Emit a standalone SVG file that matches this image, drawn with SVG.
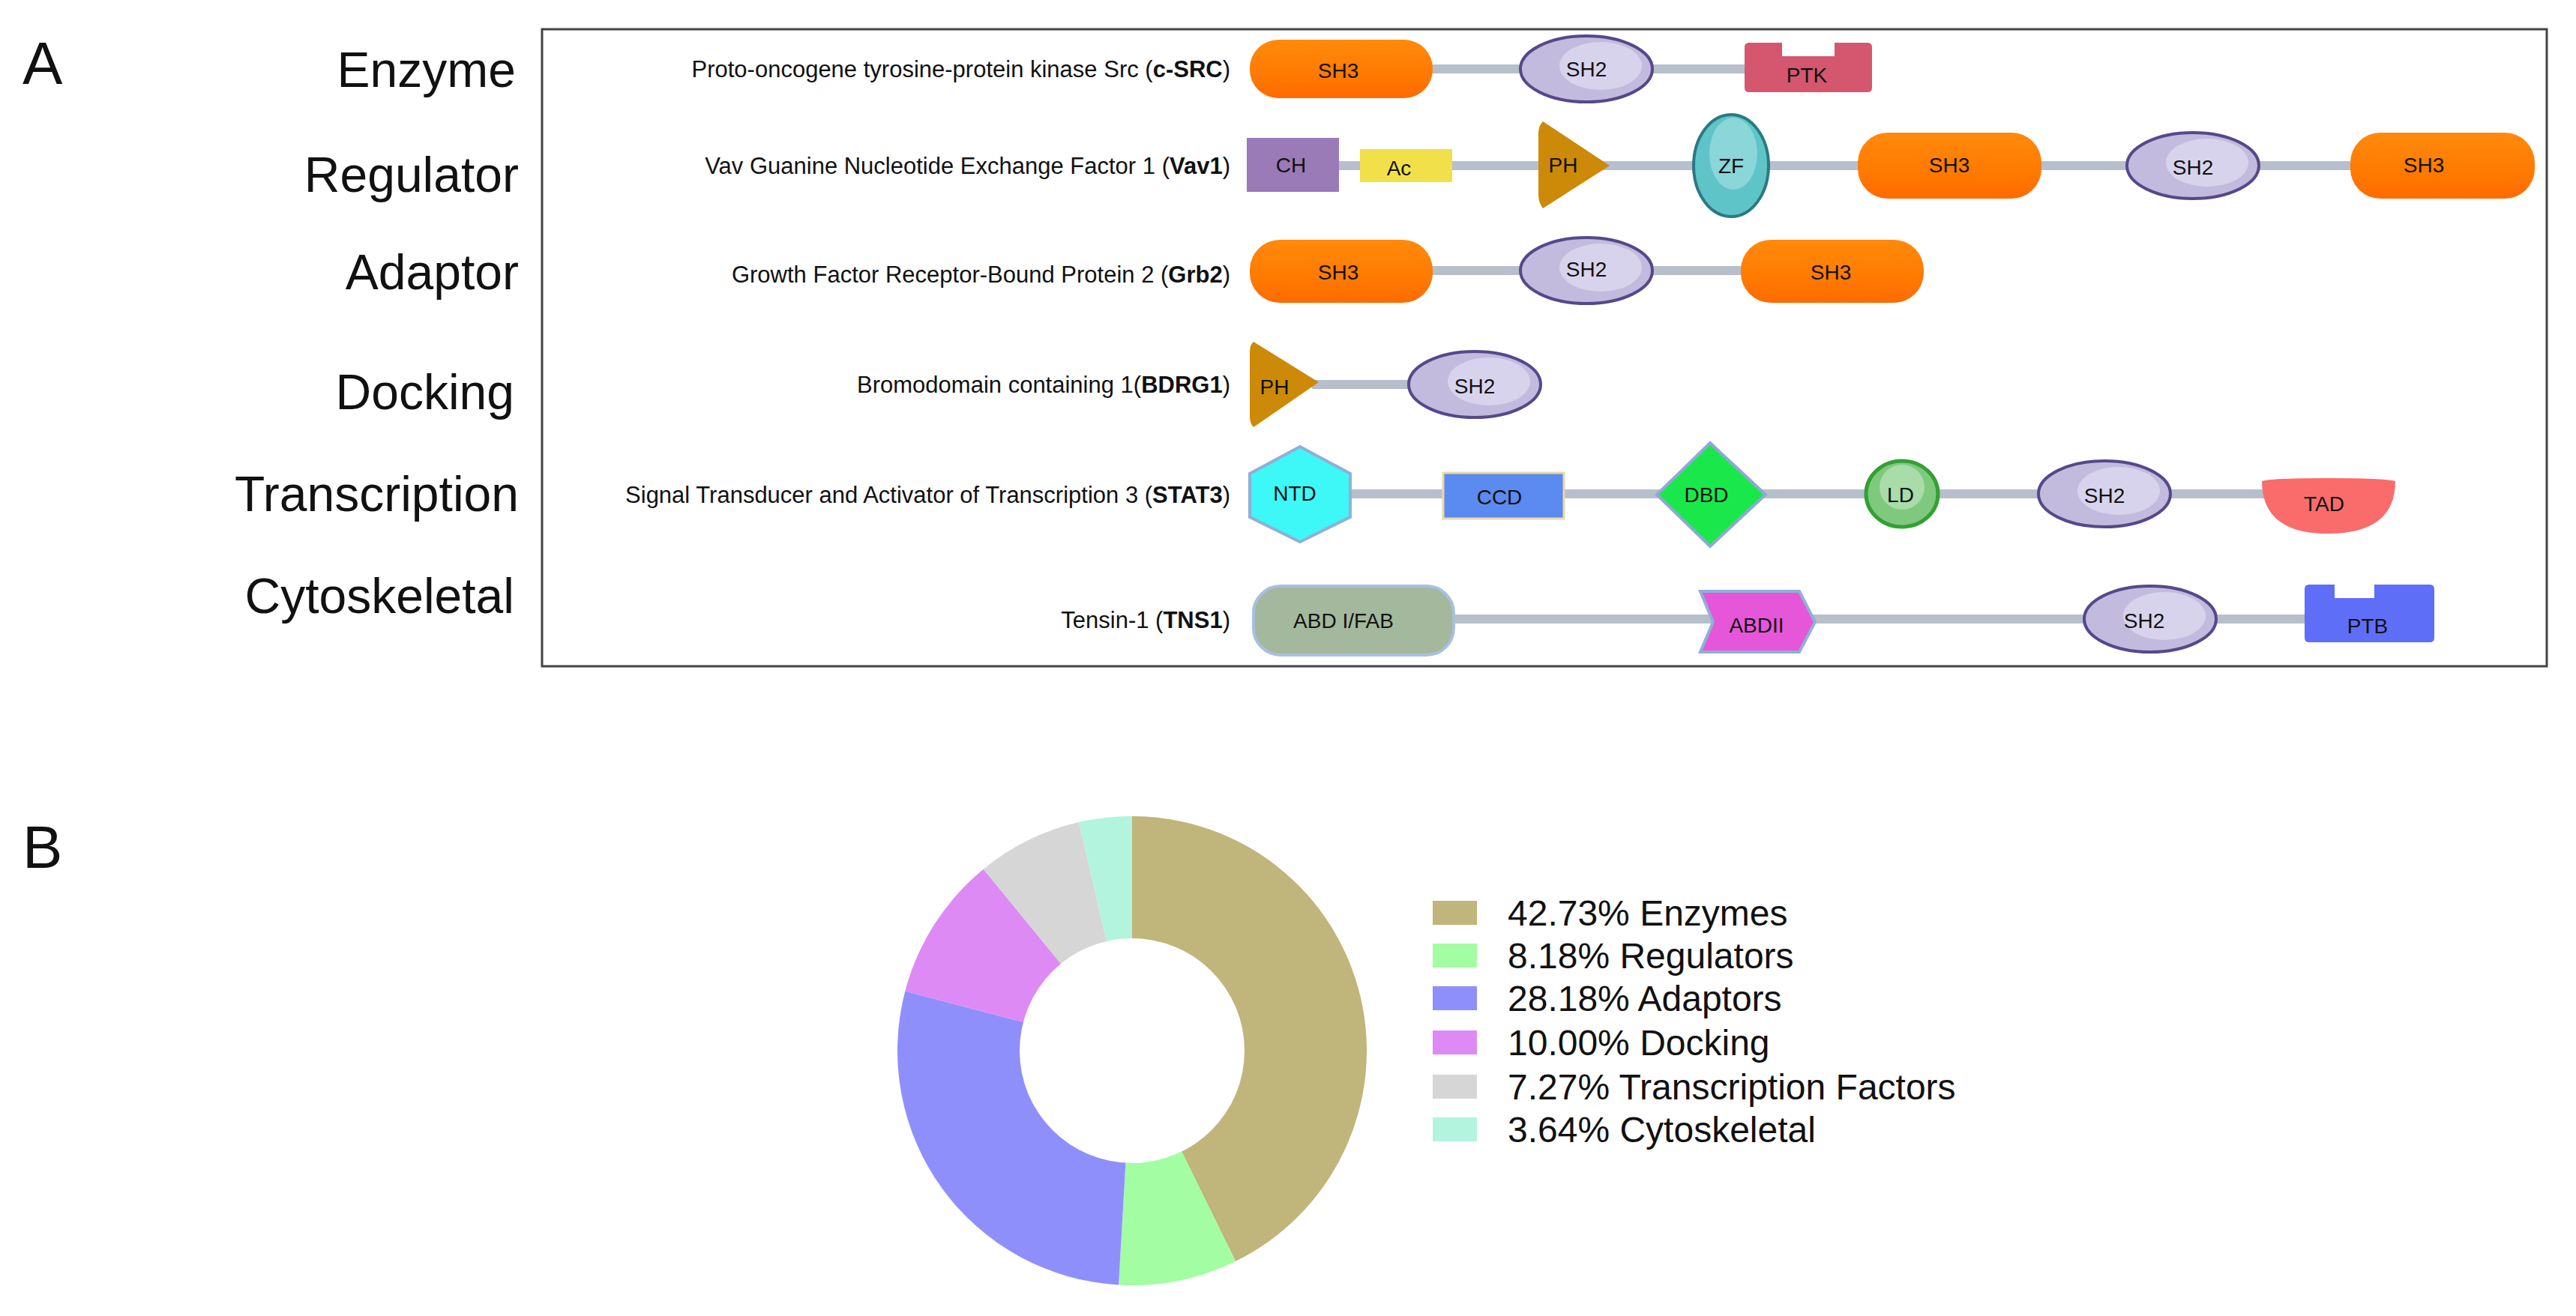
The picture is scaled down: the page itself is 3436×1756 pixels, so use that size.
<svg xmlns="http://www.w3.org/2000/svg" width="3436" height="1756" viewBox="0 0 3436 1756">
<defs>
<style>
text{font-family:"Liberation Sans",Arial,sans-serif;fill:#111}
.cat{font-size:66px;text-anchor:end}
.pl{font-size:31px;text-anchor:end}
.dl{font-size:28px;text-anchor:middle;dominant-baseline:central}
.lk{stroke:#b7bfcc;stroke-width:12;fill:none}
.sh3{fill:url(#gOr)}
.sh2{fill:#c2bbde;stroke:#56488a;stroke-width:4}
.hl{fill:#d8d3ec}
.leg{font-size:48px}
</style>
<linearGradient id="gOr" x1="0" y1="0" x2="0" y2="1"><stop offset="0" stop-color="#ff8a0c"/><stop offset="0.6" stop-color="#ff7a00"/><stop offset="1" stop-color="#ff6a00"/></linearGradient>
</defs>
<rect width="3436" height="1756" fill="#fff"/>
<text x="30" y="112" style="font-size:80px">A</text>
<text x="30" y="1158" style="font-size:80px">B</text>
<rect x="723" y="39" width="2674" height="850" fill="none" stroke="#444" stroke-width="3"/>
<g id="categories">
<text class="cat" x="688" y="116">Enzyme</text>
<text class="cat" x="692" y="256">Regulator</text>
<text class="cat" x="692" y="386">Adaptor</text>
<text class="cat" x="686" y="546">Docking</text>
<text class="cat" x="692" y="682">Transcription</text>
<text class="cat" x="686" y="818">Cytoskeletal</text>
</g>
<g id="protein-labels">
<text class="pl" x="1641" y="103">Proto-oncogene tyrosine-protein kinase Src (<tspan font-weight="bold">c-SRC</tspan>)</text>
<text class="pl" x="1641" y="232">Vav Guanine Nucleotide Exchange Factor 1 (<tspan font-weight="bold">Vav1</tspan>)</text>
<text class="pl" x="1641" y="377">Growth Factor Receptor-Bound Protein 2 (<tspan font-weight="bold">Grb2</tspan>)</text>
<text class="pl" x="1641" y="524">Bromodomain containing 1(<tspan font-weight="bold">BDRG1</tspan>)</text>
<text class="pl" x="1641" y="671">Signal Transducer and Activator of Transcription 3 (<tspan font-weight="bold">STAT3</tspan>)</text>
<text class="pl" x="1641" y="838">Tensin-1 (<tspan font-weight="bold">TNS1</tspan>)</text>
</g>
<g id="connectors">
<line class="lk" x1="1900" y1="92" x2="2330" y2="92"/>
<line class="lk" x1="1780" y1="221" x2="3140" y2="221"/>
<line class="lk" x1="1900" y1="361" x2="2330" y2="361"/>
<line class="lk" x1="1750" y1="513" x2="1900" y2="513"/>
<line class="lk" x1="1790" y1="659" x2="3020" y2="659"/>
<line class="lk" x1="1930" y1="826" x2="3080" y2="826"/>
</g>
<g id="c-SRC">
<rect class="sh3" x="1667" y="53" width="244" height="78" rx="38"/><text class="dl" x="1785" y="94">SH3</text>
<ellipse class="sh2" cx="2116" cy="92" rx="88" ry="44"/><ellipse class="hl" cx="2135" cy="88" rx="55" ry="32"/><text class="dl" x="2116" y="92">SH2</text>
<path d="M2327 63 q0-6 6-6 h44 v18 h70 v-18 h44 q6 0 6 6 v54 q0 6-6 6 h-158 q-6 0-6-6z" fill="#d4566f"/><text class="dl" x="2410" y="100">PTK</text>
</g>
<g id="Vav1">
<rect x="1663" y="184" width="123" height="72" fill="#9b7ab8"/><text class="dl" x="1722" y="220">CH</text>
<rect x="1814" y="199" width="123" height="44" fill="#f2e04a"/><text class="dl" x="1866" y="224">Ac</text>
<path d="M2058 162 L2147 221 L2058 278 Q2052 270 2052 260 V178 Q2052 168 2058 162z" fill="#cc8a08"/><text class="dl" x="2085" y="220">PH</text>
<ellipse cx="2309" cy="221" rx="50" ry="68" fill="#5fc4c8" stroke="#2a7a80" stroke-width="4"/><ellipse cx="2312" cy="205" rx="32" ry="48" fill="#8ad6d8"/><text class="dl" x="2309" y="221">ZF</text>
<rect class="sh3" x="2478" y="177" width="245" height="88" rx="40"/><text class="dl" x="2600" y="220">SH3</text>
<ellipse class="sh2" cx="2925" cy="221" rx="88" ry="44"/><ellipse class="hl" cx="2944" cy="217" rx="55" ry="32"/><text class="dl" x="2925" y="223">SH2</text>
<rect class="sh3" x="3135" y="177" width="246" height="88" rx="40"/><text class="dl" x="3233" y="220">SH3</text>
</g>
<g id="Grb2">
<rect class="sh3" x="1667" y="320" width="244" height="84" rx="40"/><text class="dl" x="1785" y="363">SH3</text>
<ellipse class="sh2" cx="2116" cy="361" rx="88" ry="44"/><ellipse class="hl" cx="2135" cy="357" rx="55" ry="32"/><text class="dl" x="2116" y="359">SH2</text>
<rect class="sh3" x="2322" y="320" width="244" height="84" rx="40"/><text class="dl" x="2442" y="363">SH3</text>
</g>
<g id="BDRG1">
<path d="M1672 456 L1759 510 L1672 570 Q1667 565 1667 556 V470 Q1667 460 1672 456z" fill="#cc8a08"/><text class="dl" x="1700" y="516">PH</text>
<ellipse class="sh2" cx="1967" cy="513" rx="88" ry="44"/><ellipse class="hl" cx="1986" cy="509" rx="55" ry="32"/><text class="dl" x="1967" y="515">SH2</text>
</g>
<g id="STAT3">
<polygon points="1734,596 1801,632 1801,690 1734,723 1667,690 1667,632" fill="#3ef7f7" stroke="#8fb0d6" stroke-width="4"/><text class="dl" x="1727" y="658">NTD</text>
<rect x="1925" y="631" width="161" height="61" fill="#5b8af0" stroke="#e8d9a8" stroke-width="3"/><text class="dl" x="2000" y="663">CCD</text>
<polygon points="2281,591 2355,660 2281,729 2210,660" fill="#1ae84a" stroke="#8fa8d6" stroke-width="4"/><text class="dl" x="2276" y="660">DBD</text>
<ellipse cx="2537" cy="659" rx="48" ry="44" fill="#7fc97f" stroke="#33a033" stroke-width="5"/><ellipse cx="2537" cy="650" rx="30" ry="30" fill="#a8dca8"/><text class="dl" x="2535" y="660">LD</text>
<ellipse class="sh2" cx="2807" cy="659" rx="88" ry="44"/><ellipse class="hl" cx="2826" cy="655" rx="55" ry="32"/><text class="dl" x="2807" y="661">SH2</text>
<path d="M3017 642 Q3030 638 3105 638 Q3180 638 3195 642 Q3195 712 3105 712 Q3017 712 3017 642z" fill="#fa6c6c"/><text class="dl" x="3100" y="672">TAD</text>
</g>
<g id="TNS1">
<rect x="1672" y="782" width="267" height="92" rx="36" fill="#a3b89c" stroke="#a7c0e0" stroke-width="4"/><text class="dl" x="1792" y="828">ABD I/FAB</text>
<polygon points="2268,789 2400,789 2421,830 2400,870 2268,870 2285,830" fill="#e656d9" stroke="#8fb0d6" stroke-width="4"/><text class="dl" x="2343" y="834">ABDII</text>
<ellipse class="sh2" cx="2868" cy="826" rx="88" ry="44"/><ellipse class="hl" cx="2887" cy="822" rx="55" ry="32"/><text class="dl" x="2860" y="828">SH2</text>
<path d="M3074 786 q0-6 6-6 h34 v18 h53 v-18 h74 q6 0 6 6 v65 q0 6-6 6 h-161 q-6 0-6-6z" fill="#5e6ef7"/><text class="dl" x="3158" y="835">PTB</text>
</g>
<g id="donut">
<path d="M1510 1402 L1510 1089 A313 313 0 0 1 1648.1 1682.9Z" fill="#c0b57a"/>
<path d="M1510 1402 L1648.1 1682.9 A313 313 0 0 1 1492.1 1714.5Z" fill="#a3fda3"/>
<path d="M1510 1402 L1492.1 1714.5 A313 313 0 0 1 1207.3 1322.5Z" fill="#8f8ffc"/>
<path d="M1510 1402 L1207.3 1322.5 A313 313 0 0 1 1311.8 1159.7Z" fill="#dd8af5"/>
<path d="M1510 1402 L1311.8 1159.7 A313 313 0 0 1 1439.1 1097.1Z" fill="#d6d6d6"/>
<path d="M1510 1402 L1439.1 1097.1 A313 313 0 0 1 1510 1089Z" fill="#b3f4df"/>
<circle cx="1510" cy="1402" r="150" fill="#fff"/>
</g>
<g id="legend">
<rect x="1911" y="1202" width="59" height="32" fill="#c0b57a"/><text class="leg" x="2011" y="1235">42.73%  Enzymes</text>
<rect x="1911" y="1259" width="59" height="32" fill="#a3fda3"/><text class="leg" x="2011" y="1292">8.18%  Regulators</text>
<rect x="1911" y="1316" width="59" height="32" fill="#8f8ffc"/><text class="leg" x="2011" y="1349">28.18%  Adaptors</text>
<rect x="1911" y="1375" width="59" height="32" fill="#dd8af5"/><text class="leg" x="2011" y="1408">10.00%  Docking</text>
<rect x="1911" y="1434" width="59" height="32" fill="#d6d6d6"/><text class="leg" x="2011" y="1467">7.27%  Transcription Factors</text>
<rect x="1911" y="1491" width="59" height="32" fill="#b3f4df"/><text class="leg" x="2011" y="1524">3.64%  Cytoskeletal</text>
</g>
</svg>
